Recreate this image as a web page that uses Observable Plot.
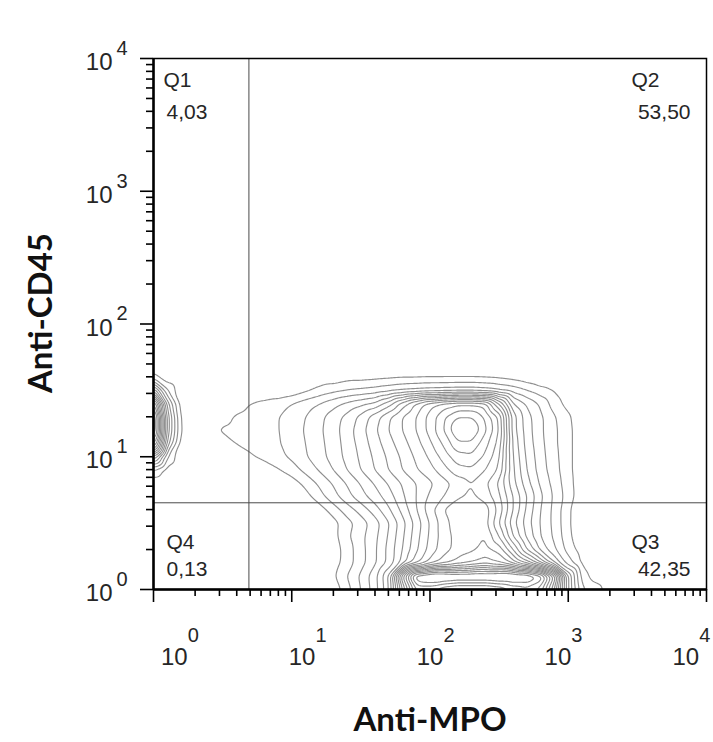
<!DOCTYPE html>
<html>
<head>
<meta charset="utf-8">
<script src="https://cdn.jsdelivr.net/npm/d3@7"></script>
<script src="https://cdn.jsdelivr.net/npm/@observablehq/plot@0.6"></script>
<style>
  html, body { margin: 0; padding: 0; background: #fff; }
  #chart svg { display: block; }
</style>
</head>
<body>
<div id="chart"></div>
<script>
// ---- Axis ticks (log decades) ----
const decadeTicks = [1, 10, 100, 1000, 10000];
const decadeExponents = ["0", "1", "2", "3", "4"];
const minorTicks = [];
for (const base of [1, 10, 100, 1000]) for (const m of [2, 3, 4, 5, 6, 7, 8, 9]) minorTicks.push(base * m);

// ---- Axis titles ----
const xTitle = "Anti-MPO";
const yTitle = "Anti-CD45";

// ---- Quadrant gates and percentages ----
const gateX = 4.9;
const gateY = 4.5;
const quadrantNames = ["Q1", "Q2", "Q3", "Q4"];
const quadrantValues = ["4,03", "53,50", "42,35", "0,13"];

// ---- Contour density levels ----
// grid positions in decades (log10 of fluorescence)
const gridDecadesX = [0.0,0.1,0.2,0.3,0.4,0.5,0.6,0.7,0.8,0.9,1.0,1.1,1.2,1.3,1.4,1.5,1.6,1.7,1.8,1.9,2.0,2.1,2.2,2.3,2.4,2.5,2.6,2.7,2.8,2.9,3.0,3.1,3.2,3.3,3.4];
const gridDecadesY = [1.8,1.7,1.6,1.5,1.4,1.3,1.2,1.1,1.0,0.9,0.8,0.7,0.6,0.5,0.4,0.3,0.2,0.1,0.0];
const levelRows = [
  [0,0,0,0,0,0,0,0,0,0,0,0,0,0,0,0,0,0,0,0,0,0,0,0,0,0,0,0,0,0,0,0,0,0,0],
  [0,0,0,0,0,0,0,0,0,0,0,0,0,0,0,0,0,0,0,0,0,0,0,0,0,0,0,0,0,0,0,0,0,0,0],
  [1.5,0.3,0,0,0,0,0,0,0,0,0,0,0.3,0.3,0.6,0.6,0.7,0.8,0.9,0.9,0.95,0.95,0.95,0.95,0.9,0.8,0.6,0.3,0,0,0,0,0,0,0],
  [7,2,0.2,0,0,0,0,0,0,0,0.3,0.8,1.3,1.7,2.0,2.2,2.4,2.7,3.0,3.2,3.4,3.5,3.6,3.6,3.4,3.0,2.6,2.0,1.4,0.9,0.3,0,0,0,0],
  [14,4.5,0.5,0,0,0.2,0.6,1.0,1.3,1.6,2.0,2.5,3.0,3.6,4.2,4.7,5.2,6.5,8.5,10.2,11.6,12.4,12.8,12.8,12.4,9.0,5.0,3.8,2.8,1.5,0.6,0,0,0,0],
  [17,5.5,0.8,0,0.3,0.7,1.1,1.3,1.6,1.95,2.4,3.0,3.7,4.5,5.3,6.3,7.5,8.8,10.0,11.0,12.4,13.8,15.0,15.0,13.8,11.8,6.5,4.4,3.2,2.1,1.2,0.2,0,0,0],
  [17,5.5,0.9,0,0.8,1.1,1.25,1.4,1.6,1.95,2.5,3.1,3.8,4.6,5.5,6.6,7.8,9.0,10.0,11.0,12.4,14.0,16.0,16.0,14.2,12.0,6.5,4.5,3.2,2.2,1.3,0.3,0,0,0],
  [14,4.5,0.5,0,0.3,0.6,1.05,1.3,1.6,1.9,2.4,3.0,3.7,4.5,5.4,6.4,7.5,8.6,9.6,10.6,11.8,13.2,14.8,14.8,13.4,11.6,6.8,4.6,3.3,2.2,1.3,0.3,0,0,0],
  [7,2,0.2,0,0,0,0.3,0.85,1.3,1.7,2.2,2.9,3.6,4.4,5.3,6.2,7.2,8.2,9.2,10.2,11.2,12.4,13.6,13.8,12.8,11.2,7.0,4.8,3.4,2.3,1.3,0.3,0,0,0],
  [2,0.5,0,0,0,0,0,0,0.3,0.9,1.5,2.3,3.1,4.0,5.0,6.0,7.0,8.0,9.0,9.9,10.6,11.6,12.6,12.8,12.0,10.8,7.2,5.0,3.5,2.4,1.3,0.3,0,0,0],
  [0.3,0,0,0,0,0,0,0,0,0,0.5,1.3,2.2,3.1,4.1,5.1,6.1,7.1,8.1,9.0,9.8,10.6,11.4,12.0,11.2,9.8,7.4,5.4,3.8,2.6,1.4,0.3,0,0,0],
  [0,0,0,0,0,0,0,0,0,0,0,0.6,1.6,2.6,3.6,4.6,5.5,6.5,7.8,9.0,10.2,11.0,11.8,12.2,11.6,10.2,8.0,6.0,4.2,2.8,1.5,0.3,0,0,0],
  [0,0,0,0,0,0,0,0,0,0,0,0,0.5,1.5,2.5,3.4,4.5,5.8,7.3,8.9,10.6,12.0,12.8,13.0,12.5,10.6,8.0,5.8,4.0,2.7,1.2,0.1,0,0,0],
  [0,0,0,0,0,0,0,0,0,0,0,0,0,0.6,1.6,2.5,3.5,4.9,6.6,8.4,10.1,11.6,12.6,13.0,12.4,10.0,7.4,5.5,3.9,2.7,1.2,0,0,0,0],
  [0,0,0,0,0,0,0,0,0,0,0,0,0,0.6,1.8,2.7,3.7,5.1,6.8,8.6,10.2,11.5,12.4,12.8,13.0,11.0,8.0,5.8,4.0,2.8,1.3,0.1,0,0,0],
  [0,0,0,0,0,0,0,0,0,0,0,0,0,0.4,1.5,2.6,3.8,5.3,7.0,8.8,10.4,11.6,12.4,12.8,13.4,12.6,10.0,7.0,4.8,3.2,1.6,0.5,0,0,0],
  [0,0,0,0,0,0,0,0,0,0,0,0,0,0.5,1.5,2.6,3.8,5.3,7.4,9.6,11.4,12.6,13.4,14.0,14.6,14.0,12.6,10.6,8.0,5.0,2.5,0.8,0,0,0],
  [0,0,0,0,0,0,0,0,0,0,0,0,0,0.8,2.0,3.2,4.6,7.0,15,21,21.8,21.8,21.5,21.5,21.5,21.8,21.8,21.5,20,15,6,1.6,0.4,0,0],
  [0,0,0,0,0,0,0,0,0,0,0,0,0,0.3,1.6,3.0,4.5,6.8,13,18,18,17,16.5,16.5,16.5,17,18,18.5,17.5,13,6,2.2,1.6,0.4,0]
];
const contourLevels = [1,2,3,4,5,6,7,8,9,10,11,12,13,14,15,16,17,18,19,20,21];

// table for the contour mark
const cells = [];
levelRows.forEach((row, r) => row.forEach((level, c) => {
  cells.push({x: 10 ** gridDecadesX[c], y: 10 ** gridDecadesY[r], level});
}));
// empty far corners of the plotting range
cells.push({x: 10000, y: 1, level: 0}, {x: 10000, y: 10000, level: 0}, {x: 1, y: 10000, level: 0});

const labelFont = "Liberation Sans, Arial, sans-serif";
const titleFont = "Lato, 'Open Sans', sans-serif";
const textColor = "#262626";
// tick labels sit slightly closer to the middle than their ticks, as in the source figure
const xLabelAt = d => 10 ** (2 + (Math.log10(d) - 2) * 0.925);

const chart = Plot.plot({
  width: 713,
  height: 742,
  marginLeft: 153,
  marginRight: 7,
  marginTop: 58,
  marginBottom: 153,
  x: {type: "log", domain: [1, 10000]},
  y: {type: "log", domain: [1, 10000]},
  style: {background: "#fff", fontFamily: labelFont},
  marks: [
    Plot.contour(cells, {
      x: "x", y: "y", value: "level",
      thresholds: contourLevels,
      interpolate: "barycentric",
      blur: 2,
      pixelSize: 1,
      fill: "none",
      stroke: "#8f8f8f",
      strokeWidth: 1.15
    }),
    // quadrant gates
    Plot.ruleX([gateX], {stroke: "#4a4a4a", strokeWidth: 1}),
    Plot.ruleY([gateY], {stroke: "#4a4a4a", strokeWidth: 1}),
    // frame and axis lines
    Plot.frame({stroke: "#000", strokeWidth: 1.5}),
    Plot.ruleX([1], {stroke: "#000", strokeWidth: 2.5}),
    Plot.ruleY([1], {stroke: "#000", strokeWidth: 2.5}),
    // ticks
    Plot.axisX(decadeTicks, {anchor: "bottom", label: null, tickSize: 13, tickFormat: () => "", stroke: "#000", strokeWidth: 1.6}),
    Plot.axisX(minorTicks, {anchor: "bottom", label: null, tickSize: 7, tickFormat: () => "", stroke: "#000", strokeWidth: 1.6}),
    Plot.axisY(decadeTicks, {anchor: "left", label: null, tickSize: 13, tickFormat: () => "", stroke: "#000", strokeWidth: 1.6}),
    Plot.axisY(minorTicks, {anchor: "left", label: null, tickSize: 7, tickFormat: () => "", stroke: "#000", strokeWidth: 1.6}),
    // tick labels: "10" with superscript exponent
    Plot.text(decadeTicks, {x: xLabelAt, text: () => "10", frameAnchor: "bottom", textAnchor: "middle", lineAnchor: "middle", dy: 68, fontSize: 24, fill: textColor}),
    Plot.text(decadeTicks, {x: xLabelAt, text: (d, i) => decadeExponents[i], frameAnchor: "bottom", textAnchor: "middle", lineAnchor: "middle", dy: 46, dx: 19, fontSize: 20, fill: textColor}),
    Plot.text(decadeTicks, {y: d => d, text: () => "10", frameAnchor: "left", textAnchor: "end", lineAnchor: "middle", dx: -41, dy: 4, fontSize: 24, fill: textColor}),
    Plot.text(decadeTicks, {y: d => d, text: (d, i) => decadeExponents[i], frameAnchor: "left", textAnchor: "start", lineAnchor: "middle", dx: -37, dy: -10, fontSize: 20, fill: textColor}),
    // quadrant labels
    Plot.text([quadrantNames[0]], {frameAnchor: "top-left", textAnchor: "start", lineAnchor: "middle", dx: 10, dy: 22, fontSize: 21, fill: textColor}),
    Plot.text([quadrantValues[0]], {frameAnchor: "top-left", textAnchor: "start", lineAnchor: "middle", dx: 13, dy: 54, fontSize: 21, fill: textColor}),
    Plot.text([quadrantNames[1]], {frameAnchor: "top-right", textAnchor: "start", lineAnchor: "middle", dx: -75, dy: 22, fontSize: 21, fill: textColor}),
    Plot.text([quadrantValues[1]], {frameAnchor: "top-right", textAnchor: "end", lineAnchor: "middle", dx: -16, dy: 54, fontSize: 21, fill: textColor}),
    Plot.text([quadrantNames[2]], {frameAnchor: "bottom-right", textAnchor: "start", lineAnchor: "middle", dx: -75, dy: -47, fontSize: 21, fill: textColor}),
    Plot.text([quadrantValues[2]], {frameAnchor: "bottom-right", textAnchor: "end", lineAnchor: "middle", dx: -16, dy: -20, fontSize: 21, fill: textColor}),
    Plot.text([quadrantNames[3]], {frameAnchor: "bottom-left", textAnchor: "start", lineAnchor: "middle", dx: 13, dy: -47, fontSize: 21, fill: textColor}),
    Plot.text([quadrantValues[3]], {frameAnchor: "bottom-left", textAnchor: "start", lineAnchor: "middle", dx: 13, dy: -20, fontSize: 21, fill: textColor}),
    // axis titles
    Plot.text([xTitle], {frameAnchor: "bottom", textAnchor: "middle", lineAnchor: "middle", dy: 131, fontSize: 33, fontWeight: "bold", fontFamily: titleFont, fill: "#111"}),
    Plot.text([yTitle], {frameAnchor: "left", textAnchor: "middle", lineAnchor: "middle", rotate: -90, dx: -112, dy: -11, fontSize: 33, fontWeight: "bold", fontFamily: titleFont, fill: "#111"})
  ]
});
document.getElementById("chart").appendChild(chart);
</script>
</body>
</html>
